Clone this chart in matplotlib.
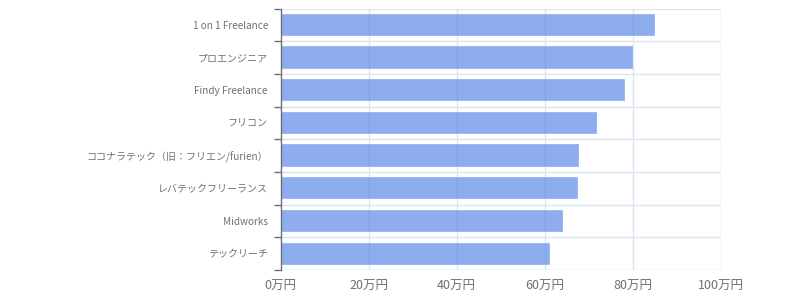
import matplotlib
matplotlib.use("Agg")
import matplotlib.pyplot as plt
import numpy as np

plt.rcParams['font.family'] = ['Noto Sans CJK JP', 'DejaVu Sans']

categories = ["1 on 1 Freelance", "プロエンジニア", "Findy Freelance", "フリコン",
              "ココナラテック（旧：フリエン/furien）", "レバテックフリーランス", "Midworks", "テックリーチ"]
values = [85, 80, 78.3, 72, 67.8, 67.7, 64.1, 61.2]
xticks = [0, 20, 40, 60, 80, 100]
xticklabels = ["0万円", "20万円", "40万円", "60万円", "80万円", "100万円"]

fig = plt.figure(figsize=(8, 3), dpi=100)
ax = fig.add_axes([280.5/800, 1-270/300, 440/800, (270-8.5)/300])

n = len(categories)
ypos = np.arange(n)[::-1]
ax.barh(ypos, values, height=0.68, color='#5F8AE7', alpha=0.7, zorder=3,
        edgecolor='#ffffff', linewidth=0.3)

ax.set_xlim(0, 100)
ax.set_ylim(-0.5, n-0.5)

grid_c = '#dce3f4'
for x in xticks[1:]:
    ax.axvline(x, color=grid_c, lw=1, zorder=1)
for b in np.arange(-0.5, n, 1):
    ax.axhline(b, color=grid_c, lw=1, zorder=1)

for s in ['top', 'right', 'bottom']:
    ax.spines[s].set_visible(False)
ax.spines['left'].set_color('#6e7079')
ax.spines['left'].set_linewidth(1)
ax.spines['left'].set_zorder(4)

ax.set_yticks(np.arange(-0.5, n, 1))
ax.set_yticklabels([])
ax.set_yticks(ypos, minor=True)
ax.set_yticklabels(categories, minor=True, fontsize=7.2, color='#6e7079')
ax.tick_params(axis='y', which='major', length=5, width=1, color='#6e7079')
ax.tick_params(axis='y', which='minor', length=0, pad=9)

ax.set_xticks(xticks)
ax.set_xticklabels(xticklabels, fontsize=9, color='#6e7079')
ax.tick_params(axis='x', length=0, pad=7)

fig.savefig('out.png', dpi=100)
